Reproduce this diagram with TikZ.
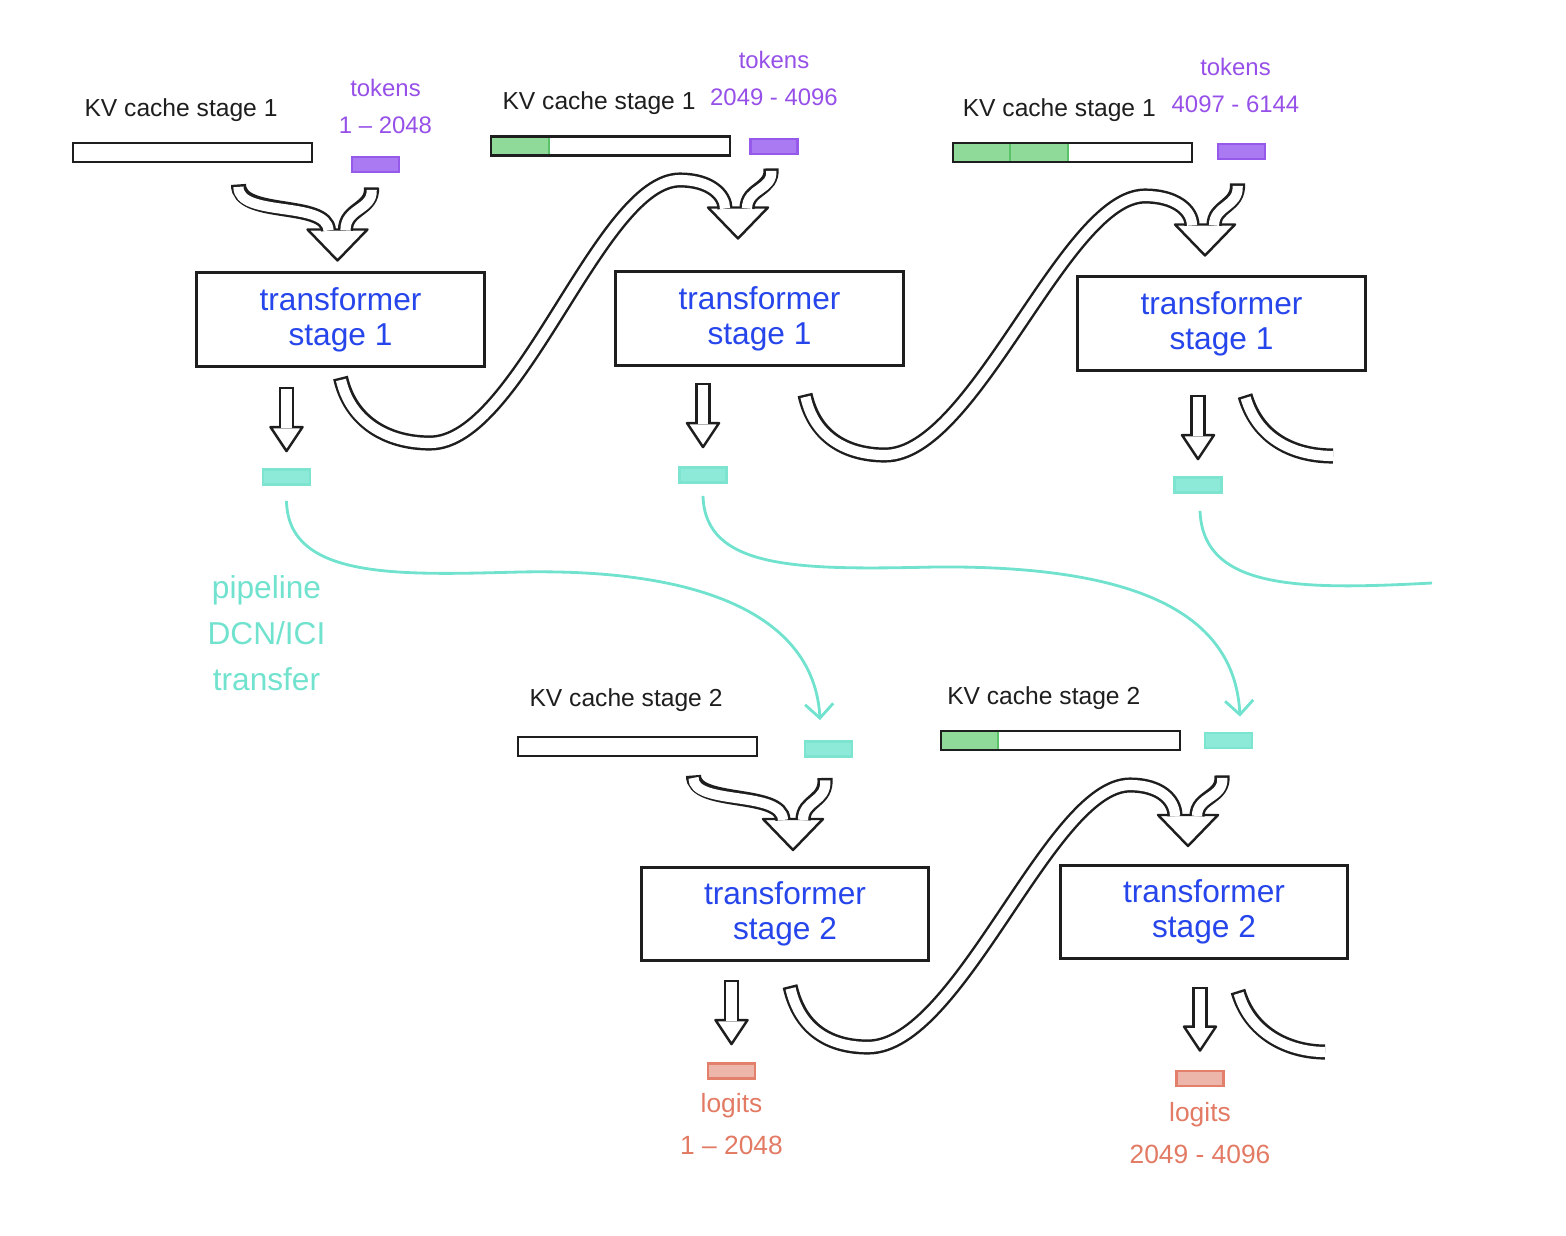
\documentclass[tikz,border=0pt]{standalone}
\usepackage{fontspec}
\setmainfont{Liberation Sans}
\usetikzlibrary{arrows.meta,positioning,calc}

\definecolor{ink}{RGB}{30,30,30}
\definecolor{tblue}{RGB}{38,70,235}
\definecolor{tokfill}{RGB}{170,122,242}
\definecolor{tokedge}{RGB}{150,90,235}
\definecolor{toktext}{RGB}{150,80,232}
\definecolor{kvgreen}{RGB}{143,218,152}
\definecolor{kvedge}{RGB}{90,195,105}
\definecolor{actfill}{RGB}{142,234,216}
\definecolor{actedge}{RGB}{125,228,208}
\definecolor{xferline}{RGB}{112,226,206}
\definecolor{lgtfill}{RGB}{236,182,170}
\definecolor{lgtedge}{RGB}{226,128,108}
\definecolor{lgttext}{RGB}{226,122,100}

\begin{document}
\begin{tikzpicture}[
  x=0.01cm, y=-0.01cm,
  tbox/.style={draw=ink, line width=0.85pt, minimum width=2.87cm, minimum height=0.93cm, align=center, text=tblue, font=\fontsize{9}{10}\selectfont},
  kvbar/.style={draw=ink, line width=0.8pt, minimum width=2.39cm, minimum height=0.19cm, inner sep=0pt},
  cached/.style 2 args={path picture={
    \fill[kvgreen] ([shift={(0.4pt,0.4pt)}]path picture bounding box.south west) rectangle ([shift={(#2,-0.4pt)}]path picture bounding box.north west);
    \draw[kvedge, line width=0.6pt] ([xshift=#1]path picture bounding box.south west) -- ([xshift=#1]path picture bounding box.north west);
    \draw[kvedge, line width=0.6pt] ([xshift=#2]path picture bounding box.south west) -- ([xshift=#2]path picture bounding box.north west);}},
  tok/.style={draw=tokedge, fill=tokfill, line width=0.8pt, minimum width=0.47cm, minimum height=0.15cm, inner sep=0pt},
  act/.style={tok, draw=actedge, fill=actfill},
  lgt/.style={tok, draw=lgtedge, fill=lgtfill},
  lbl/.style={font=\fontsize{7}{9}\selectfont, inner sep=0pt, text=ink},
  toklbl/.style={font=\fontsize{6.8}{10.5}\selectfont, inner sep=0pt, align=center, text=toktext},
  pipelbl/.style={font=\fontsize{9}{13}\selectfont, inner sep=0pt, align=center, text=xferline},
  lgtlbl/.style={font=\fontsize{7.5}{12}\selectfont, inner sep=0pt, align=center, text=lgttext},
  band/.style={draw=white, line width=2.9pt, shorten <=0.7pt, preaction={draw=ink, line width=4.3pt, shorten <=0pt}},
  arrhead/.style={draw=ink, fill=white, line width=0.7pt, line join=round},
  xfer/.style={draw=xferline, line width=0.8pt, -{Straight Barb[length=4pt,width=8pt]}}
]
\useasboundingbox (0,0) rectangle (1566,1236);

\node[tbox] (boxA) at (340.5,319.5) {transformer\\stage 1};
\node[tbox] (boxB) at (759.5,318.5) {transformer\\stage 1};
\node[tbox] (boxC) at (1221.5,323.5) {transformer\\stage 1};
\node[tbox] (boxD) at (785,914) {transformer\\stage 2};
\node[tbox] (boxE) at (1204,912) {transformer\\stage 2};

\node[kvbar] (kvA) at (192.5,152.5) {};
\node[kvbar, cached={5.8mm}{5.8mm}] (kvB) at (610.5,146) {};
\node[kvbar, cached={5.7mm}{11.5mm}] (kvC) at (1072.5,152.5) {};
\node[kvbar] (kvD) at (637.5,746.5) {};
\node[kvbar, cached={5.7mm}{5.7mm}] (kvE) at (1060.5,740.5) {};

\node[lbl, above right=5.5pt and 3.5pt of kvA.north west] (kvlA) {KV cache stage 1};
\node[lbl, above right=5.5pt and 3.5pt of kvB.north west] (kvlB) {KV cache stage 1};
\node[lbl, above right=5.5pt and 3pt of kvC.north west] (kvlC) {KV cache stage 1};
\node[lbl, above right=6.5pt and 3.5pt of kvD.north west] (kvlD) {KV cache stage 2};
\node[lbl, above right=5.5pt and 2pt of kvE.north west] (kvlE) {KV cache stage 2};

\node[tok] (tokA) at (375.5,164.5) {};
\node[tok] (tokB) at (774,146.5) {};
\node[tok] (tokC) at (1241.5,151.5) {};
\node[toklbl, above=6pt of tokA, xshift=1mm] (tkA) {tokens\\1 -- 2048};
\node[toklbl, above=8.8pt of tokB] (tkB) {tokens\\2049 - 4096};
\node[toklbl, above=8.2pt of tokC, xshift=-0.6mm] (tkC) {tokens\\4097 - 6144};

\node[act] (tealA) at (286.5,477) {};
\node[act] (tealB) at (703,475) {};
\node[act] (tealC) at (1198,485) {};
\node[act] (tealD) at (828.5,749) {};
\node[act] (tealE) at (1228.5,740.5) {};
\node[pipelbl, below=8.9mm of tealA, xshift=-2mm] (pipe) {pipeline\\DCN/ICI\\transfer};

\node[lgt] (lgtD) at (731.5,1071) {};
\node[lgt] (lgtE) at (1200,1078.5) {};
\node[lgtlbl, below=1.3mm of lgtD] (lgD) {logits\\1 -- 2048};
\node[lgtlbl, below=1.4mm of lgtE] (lgE) {logits\\2049 - 4096};

\coordinate (hA) at ($(boxA.north)+(-3,-11)$);
\coordinate (hB) at ($(boxB.north)+(-21.5,-32)$);
\coordinate (hC) at ($(boxC.north)+(-16.5,-20)$);
\coordinate (hD) at ($(boxD.north)+(8,-16)$);
\coordinate (hE) at ($(boxE.north)+(-16,-18)$);
\draw[arrhead] (hA) -- ++(-30,-31) -- ++(60,0) -- cycle;
\draw[arrhead] (hB) -- ++(-30,-31) -- ++(60,0) -- cycle;
\draw[arrhead] (hC) -- ++(-30,-31) -- ++(60,0) -- cycle;
\draw[arrhead] (hD) -- ++(-30,-31) -- ++(60,0) -- cycle;
\draw[arrhead] (hE) -- ++(-30,-31) -- ++(60,0) -- cycle;

\draw[band] ($(kvA.south west)+(167,21)$) .. controls (238,218) and (327,200) .. ($(hA)+(-9,-30)$);
\draw[band] ($(tokA.south)+(-4,14)$) .. controls (373,210) and (345,208) .. ($(hA)+(8,-30)$);
\draw[band] ($(boxA.south)+(0,10)$) .. controls (350,420) and (385,443) .. (430,443) .. controls (520,443) and (600,180) .. (680,180) .. controls (710,180) and (725,195) .. ($(hB)+(-13,-30)$);
\draw[band] ($(tokB.south)+(-3,13)$) .. controls (773,190) and (747,188) .. ($(hB)+(9,-30)$);
\draw[band] ($(boxB.south)+(45.5,28)$) .. controls (815,440) and (850,455) .. (885,455) .. controls (975,455) and (1065,196) .. (1145,196) .. controls (1175,196) and (1192,210) .. ($(hC)+(-13,-30)$);
\draw[band] ($(tokC.south)+(-4,23)$) .. controls (1239,207) and (1214,205) .. ($(hC)+(9,-30)$);
\coordinate (endC) at (1333,456);
\draw[band] ($(boxC.south)+(23.5,24)$) .. controls (1258,440) and (1295,456) .. (endC);

\draw[band] ($(kvD.south west)+(177,18)$) .. controls (693,806) and (782,790) .. ($(hD)+(-10,-30)$);
\draw[band] ($(tealD.south)+(-3.5,20)$) .. controls (827,802) and (803,800) .. ($(hD)+(10,-30)$);
\draw[band] ($(boxD.south)+(5,24)$) .. controls (800,1030) and (830,1047) .. (868,1047) .. controls (960,1047) and (1050,785) .. (1130,785) .. controls (1160,785) and (1175,800) .. ($(hE)+(-13,-30)$);
\draw[band] ($(tealE.south)+(-6.5,26)$) .. controls (1224,798) and (1197,796) .. ($(hE)+(9,-30)$);
\coordinate (endE) at (1325,1052);
\draw[band] ($(boxE.south)+(34,31)$) .. controls (1250,1033) and (1288,1052) .. (endE);

\coordinate (dA) at ($(tealA.north)+(0,-17)$);
\coordinate (dB) at ($(tealB.north)+(0,-19)$);
\coordinate (dC) at ($(tealC.north)+(0,-17)$);
\coordinate (dD) at ($(lgtD.north)+(0,-18)$);
\coordinate (dE) at ($(lgtE.north)+(0,-19)$);
\draw[arrhead] (dA) -- ++(-16,-24) -- ++(32,0) -- cycle;
\draw[arrhead] (dB) -- ++(-16,-24) -- ++(32,0) -- cycle;
\draw[arrhead] (dC) -- ++(-16,-24) -- ++(32,0) -- cycle;
\draw[arrhead] (dD) -- ++(-16,-24) -- ++(32,0) -- cycle;
\draw[arrhead] (dE) -- ++(-16,-24) -- ++(32,0) -- cycle;
\draw[band] ($(boxA.south -| dA)+(0,19)$) -- ($(dA)+(0,-23)$);
\draw[band] ($(boxB.south -| dB)+(0,16)$) -- ($(dB)+(0,-23)$);
\draw[band] ($(boxC.south -| dC)+(0,23)$) -- ($(dC)+(0,-23)$);
\draw[band] ($(boxD.south -| dD)+(0,18)$) -- ($(dD)+(0,-23)$);
\draw[band] ($(boxE.south -| dE)+(0,27)$) -- ($(dE)+(0,-23)$);

\draw[xfer] ($(tealA.south)+(0,15)$) .. controls (288,580) and (400,575) .. (520,572) .. controls (720,568) and (815,625) .. ($(tealD.north)+(-8.5,-20)$);
\draw[xfer] ($(tealB.south)+(0,12)$) .. controls (705,570) and (800,570) .. (935,567) .. controls (1150,565) and (1235,620) .. ($(tealE.north)+(11.5,-15)$);
\coordinate (endT) at (1432,583);
\draw[xfer, -] ($(tealC.south)+(2,17)$) .. controls (1203,590) and (1300,590) .. (endT);

\end{tikzpicture}
\end{document}
